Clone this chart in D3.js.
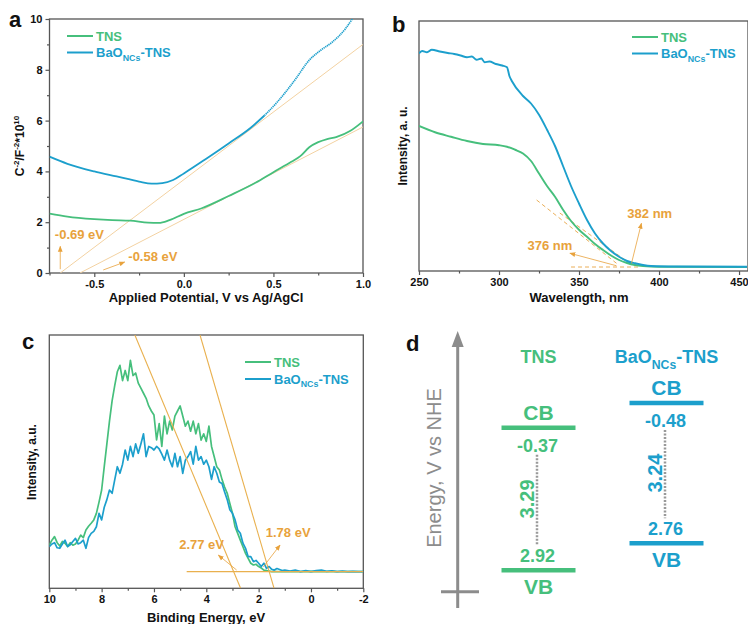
<!DOCTYPE html>
<html>
<head>
<meta charset="utf-8">
<script src="https://cdn.jsdelivr.net/npm/d3@7"></script>
<style>
  body { margin: 0; background: #fff; }
  svg { display: block; font-family: "Liberation Sans", Arial, sans-serif; }
</style>
</head>
<body>
<svg id="fig" width="748" height="624"></svg>
<script>
// ---------- data ----------
// (a) Mott-Schottky
const msPotentialTns = [-0.75, -0.65, -0.5, -0.4, -0.3, -0.2, -0.14, -0.08, 0.0, 0.1, 0.25, 0.4, 0.5, 0.6, 0.65, 0.7, 0.75, 0.8, 0.85, 0.93, 1.0];
const msValueTns     = [2.34, 2.22, 2.12, 2.08, 2.06, 1.98, 1.97, 2.08, 2.33, 2.55, 3.03, 3.55, 3.97, 4.38, 4.6, 4.95, 5.15, 5.27, 5.35, 5.6, 5.97];
const msPotentialBao = [-0.75, -0.65, -0.5, -0.375, -0.25, -0.18, -0.12, -0.06, 0.0, 0.125, 0.25, 0.37, 0.45, 0.53, 0.62, 0.7, 0.76, 0.83, 0.9, 0.94];
const msValueBao     = [4.58, 4.3, 4.0, 3.8, 3.6, 3.52, 3.54, 3.66, 3.92, 4.5, 5.1, 5.7, 6.2, 6.8, 7.6, 8.38, 8.75, 9.1, 9.6, 10.0];
const msTangents = [
  { from: [-0.69, 0], to: [1.0, 9.0] },
  { from: [-0.58, 0], to: [1.0, 5.75] }
];
const msXTicks = [-0.5, 0.0, 0.5, 1.0];
const msXMinor = [-0.75, -0.25, 0.25, 0.75];
const msYTicks = [0, 2, 4, 6, 8, 10];
const msYMinor = [1, 3, 5, 7, 9];

// (b) UV-vis
const uvWaveTns  = [250, 260, 270, 280, 290, 300, 305, 310, 315, 320, 325, 330, 335, 340, 345, 350, 355, 360, 365, 370, 375, 380, 385, 390, 400, 455];
const uvValueTns = [0.58, 0.555, 0.537, 0.52, 0.508, 0.503, 0.497, 0.485, 0.47, 0.44, 0.39, 0.34, 0.297, 0.245, 0.2, 0.165, 0.137, 0.108, 0.084, 0.062, 0.044, 0.032, 0.024, 0.02, 0.017, 0.016];
const uvWaveBao  = [250, 252, 255, 258, 263, 268, 272, 276, 280, 283, 286, 289, 291, 294, 298, 302, 305, 306.5, 308, 315, 320, 325, 330, 335, 340, 345, 350, 355, 360, 365, 370, 375, 380, 385, 390, 395, 410, 455];
const uvValueBao = [0.871, 0.88, 0.875, 0.885, 0.878, 0.872, 0.868, 0.862, 0.855, 0.858, 0.845, 0.85, 0.835, 0.838, 0.828, 0.822, 0.815, 0.78, 0.76, 0.70, 0.67, 0.625, 0.565, 0.50, 0.42, 0.34, 0.27, 0.204, 0.15, 0.11, 0.08, 0.057, 0.04, 0.031, 0.024, 0.02, 0.018, 0.017];
const uvTangents = [
  { from: [323.5, 0.284], to: [373.4, 0.031] },
  { from: [338, 0.232], to: [384, 0.02] },
  { from: [345, 0.016], to: [388, 0.016] }
];
const uvXTicks = [250, 300, 350, 400, 450];
const uvXMinor = [275, 325, 375, 425];

// (c) VB-XPS
const xpsEnergy = [10, 9.9, 9.8, 9.7, 9.6, 9.5, 9.4, 9.3, 9.2, 9.1, 9.0, 8.9, 8.8, 8.7, 8.6, 8.5, 8.4, 8.3, 8.2, 8.1,
  8.0, 7.9, 7.8, 7.7, 7.6, 7.5, 7.4, 7.3, 7.2, 7.1, 7.0, 6.9, 6.8, 6.7, 6.6, 6.5, 6.4, 6.3, 6.2, 6.1,
  6.0, 5.9, 5.8, 5.7, 5.6, 5.5, 5.4, 5.3, 5.2, 5.1, 5.0, 4.9, 4.8, 4.7, 4.6, 4.5, 4.4, 4.3, 4.2, 4.1,
  4.0, 3.9, 3.8, 3.7, 3.6, 3.5, 3.4, 3.3, 3.2, 3.1, 3.0, 2.9, 2.8, 2.7, 2.6, 2.5, 2.4, 2.3, 2.2, 2.1,
  2.0, 1.9, 1.8, 1.7, 1.6, 1.5, 1.4, 1.3, 1.2, 1.1, 1.0, 0.8, 0.6, 0.4, 0.2, 0, -0.2, -0.4, -0.6, -0.8,
  -1.0, -1.2, -1.4, -1.6, -1.8, -2.0];
const xpsTns = [0.171, 0.19, 0.204, 0.18, 0.167, 0.185, 0.178, 0.165, 0.18, 0.17, 0.175, 0.19, 0.21, 0.2, 0.23, 0.245, 0.257, 0.27, 0.296, 0.34,
  0.388, 0.48, 0.57, 0.66, 0.74, 0.80, 0.855, 0.88, 0.82, 0.86, 0.82, 0.90, 0.84, 0.85, 0.81, 0.79, 0.77, 0.75, 0.72, 0.70,
  0.684, 0.586, 0.65, 0.56, 0.68, 0.61, 0.66, 0.625, 0.68, 0.70, 0.72, 0.68, 0.64, 0.66, 0.62, 0.66, 0.61, 0.65, 0.585, 0.61,
  0.58, 0.64, 0.56, 0.52, 0.48, 0.467, 0.43, 0.40, 0.375, 0.335, 0.296, 0.243, 0.217, 0.19, 0.164, 0.138, 0.118, 0.099, 0.092, 0.095,
  0.086, 0.08, 0.072, 0.07, 0.068, 0.066, 0.067, 0.066, 0.066, 0.067, 0.066, 0.066, 0.067, 0.066, 0.066, 0.067, 0.066, 0.066, 0.066, 0.067,
  0.066, 0.066, 0.066, 0.066, 0.066, 0.066];
const xpsBao = [0.164, 0.175, 0.18, 0.16, 0.158, 0.175, 0.19, 0.165, 0.172, 0.185, 0.197, 0.175, 0.18, 0.19, 0.158, 0.2, 0.217, 0.225, 0.243, 0.296,
  0.27, 0.32, 0.35, 0.388, 0.375, 0.428, 0.48, 0.454, 0.49, 0.546, 0.506, 0.56, 0.52, 0.57, 0.533, 0.57, 0.61, 0.52, 0.56, 0.555,
  0.546, 0.56, 0.55, 0.53, 0.506, 0.546, 0.506, 0.48, 0.533, 0.48, 0.52, 0.454, 0.506, 0.52, 0.54, 0.49, 0.56, 0.506, 0.52, 0.49,
  0.506, 0.48, 0.43, 0.48, 0.454, 0.42, 0.414, 0.38, 0.35, 0.31, 0.296, 0.27, 0.23, 0.217, 0.178, 0.158, 0.125, 0.125, 0.105, 0.11,
  0.099, 0.086, 0.099, 0.079, 0.086, 0.075, 0.072, 0.078, 0.074, 0.07, 0.072, 0.068, 0.072, 0.066, 0.07, 0.066, 0.07, 0.072, 0.067, 0.069,
  0.066, 0.068, 0.066, 0.067, 0.066, 0.066];
const xpsTangents = [
  { from: [6.73, 1.0], to: [2.69, 0] },
  { from: [4.24, 1.0], to: [1.41, 0] },
  { from: [4.75, 0.066], to: [-2, 0.066] }
];
const xpsXTicks = [10, 8, 6, 4, 2, 0, -2];
const xpsXMinor = [9, 7, 5, 3, 1, -1];

// (d) band structure
const bandSamples = ["TNS", "BaO"];
const cbValues  = [-0.37, -0.48];
const vbValues  = [2.92, 2.76];
const gapValues = [3.29, 3.24];

// ---------- style ----------
const GREEN = "#46bf7c", BLUE = "#1c9fcc", ORANGE = "#e8a23c", PALE = "#f3d2a2";
const FRAME = "#555";

const svg = d3.select("#fig");
const defs = svg.append("defs");
defs.append("marker").attr("id", "arr").attr("viewBox", "0 0 10 10")
  .attr("refX", 9).attr("refY", 5).attr("markerWidth", 6).attr("markerHeight", 6)
  .attr("markerUnits", "userSpaceOnUse").attr("orient", "auto")
  .append("path").attr("d", "M0,1L10,5L0,9Z").attr("fill", ORANGE);

function baoText(sel, size) {
  sel.append("tspan").text("BaO");
  sel.append("tspan").attr("font-size", size * 0.68).attr("dy", size * 0.3).text("NCs");
  sel.append("tspan").attr("dy", -size * 0.3).text("-TNS");
}

function drawFrame(g, x, y, o, id) {
  const [x0, x1] = x.range(), [y0, y1] = y.range();
  g.append("clipPath").attr("id", id).append("rect")
    .attr("x", x0).attr("y", y1).attr("width", x1 - x0).attr("height", y0 - y1);
  g.append("g").attr("transform", `translate(0,${y0})`)
    .call(d3.axisBottom(x).tickValues(o.xTicks).tickSize(4).tickPadding(3).tickFormat(o.xFmt));
  g.append("g").attr("transform", `translate(0,${y0})`)
    .call(d3.axisBottom(x).tickValues(o.xMinor).tickSize(2.5).tickFormat(""))
    .call(s => s.select(".domain").remove());
  if (o.yTicks) {
    g.append("g").attr("transform", `translate(${x0},0)`)
      .call(d3.axisLeft(y).tickValues(o.yTicks).tickSize(4).tickPadding(3).tickFormat(d3.format("d")));
    g.append("g").attr("transform", `translate(${x0},0)`)
      .call(d3.axisLeft(y).tickValues(o.yMinor).tickSize(2.5).tickFormat(""))
      .call(s => s.select(".domain").remove());
  }
  g.selectAll(".tick line").attr("stroke", FRAME).attr("stroke-width", 1.2);
  g.selectAll(".domain").attr("stroke", "none");
  g.selectAll(".tick text").attr("font-size", 11).attr("font-weight", "bold")
    .attr("fill", "#111").attr("font-family", "Liberation Sans, Arial, sans-serif");
  g.append("rect").attr("x", x0).attr("y", y1).attr("width", x1 - x0).attr("height", y0 - y1)
    .attr("fill", "none").attr("stroke", FRAME).attr("stroke-width", 1.3);
}

function legend(g, x, y, dy) {
  [["TNS", GREEN], ["BaO", BLUE]].forEach(([name, col], i) => {
    g.append("line").attr("x1", x).attr("x2", x + 26).attr("y1", y + i * dy).attr("y2", y + i * dy)
      .attr("stroke", col).attr("stroke-width", 2);
    const t = g.append("text").attr("x", x + 29).attr("y", y + i * dy + 4.5)
      .attr("font-size", 13).attr("font-weight", "bold").attr("fill", col);
    if (name === "TNS") t.text("TNS"); else baoText(t, 13);
  });
}

function panelLabel(x, y, s) {
  svg.append("text").attr("x", x).attr("y", y).attr("font-size", 22).attr("font-weight", "bold")
    .attr("fill", "#111").text(s);
}

function note(g, x, y, p, txt) {
  g.append("line").attr("x1", x(p.from[0])).attr("y1", y(p.from[1]))
    .attr("x2", x(p.to[0])).attr("y2", y(p.to[1]))
    .attr("stroke", ORANGE).attr("stroke-width", 0.8).attr("marker-end", "url(#arr)");
  g.append("text").attr("x", x(p.label[0])).attr("y", y(p.label[1])).attr("dy", "0.35em")
    .attr("text-anchor", p.anchor || "middle").attr("font-size", 13).attr("font-weight", "bold")
    .attr("fill", ORANGE).text(txt);
}

// ---------- (a) ----------
{
  const g = svg.append("g");
  const x = d3.scaleLinear().domain([-0.75, 1.0]).range([49.5, 363]);
  const y = d3.scaleLinear().domain([0, 10]).range([273, 19]);
  drawFrame(g, x, y, { xTicks: msXTicks, xMinor: msXMinor, xFmt: d => d.toFixed(1), yTicks: msYTicks, yMinor: msYMinor }, "clipA");
  const body = g.append("g").attr("clip-path", "url(#clipA)");
  msTangents.forEach(t => body.append("line")
    .attr("x1", x(t.from[0])).attr("y1", y(t.from[1])).attr("x2", x(t.to[0])).attr("y2", y(t.to[1]))
    .attr("stroke", PALE).attr("stroke-width", 1));
  const line = d3.line().x(d => x(d[0])).y(d => y(d[1])).curve(d3.curveMonotoneX);
  body.append("path").datum(d3.zip(msPotentialTns, msValueTns)).attr("d", line)
    .attr("fill", "none").attr("stroke", GREEN).attr("stroke-width", 1.8);
  const bao = d3.zip(msPotentialBao, msValueBao);
  body.append("path").datum(bao.filter(d => d[0] <= 0.45)).attr("d", line)
    .attr("fill", "none").attr("stroke", BLUE).attr("stroke-width", 1.8);
  // the upper part of this curve is drawn as fine dots in the source
  body.append("path").datum(bao.filter(d => d[0] >= 0.45)).attr("d", line)
    .attr("fill", "none").attr("stroke", BLUE).attr("stroke-width", 1.7).attr("stroke-dasharray", "1.3,0.7");
  note(g, x, y, { from: [-0.69, 0.15], to: [-0.69, 1.05], label: [-0.72, 1.5], anchor: "start" }, "-0.69 eV");
  note(g, x, y, { from: [-0.45, 0.12], to: [-0.33, 0.43], label: [-0.31, 0.65], anchor: "start" }, "-0.58 eV");
  legend(g, 67, 36, 16.5);
  const yt = g.append("text").attr("transform", "translate(24,146) rotate(-90)").attr("text-anchor", "middle")
    .attr("font-size", 12).attr("font-weight", "bold").attr("fill", "#111");
  yt.append("tspan").text("C");
  yt.append("tspan").attr("font-size", 8).attr("dy", -5).text("-2");
  yt.append("tspan").attr("dy", 5).text("/F");
  yt.append("tspan").attr("font-size", 8).attr("dy", -5).text("-2");
  yt.append("tspan").attr("dy", 5).text("*10");
  yt.append("tspan").attr("font-size", 8).attr("dy", -5).text("10");
  g.append("text").attr("x", 206).attr("y", 302).attr("text-anchor", "middle")
    .attr("font-size", 13).attr("font-weight", "bold").attr("fill", "#111").text("Applied Potential, V vs Ag/AgCl");
  panelLabel(9, 27, "a");
}

// ---------- (b) ----------
{
  const g = svg.append("g");
  const x = d3.scaleLinear().domain([250, 455.6]).range([419, 748]);
  const y = d3.scaleLinear().domain([0, 1]).range([271, 21]);
  drawFrame(g, x, y, { xTicks: uvXTicks, xMinor: uvXMinor, xFmt: d3.format("d") }, "clipB");
  const body = g.append("g").attr("clip-path", "url(#clipB)");
  uvTangents.forEach(t => body.append("line")
    .attr("x1", x(t.from[0])).attr("y1", y(t.from[1])).attr("x2", x(t.to[0])).attr("y2", y(t.to[1]))
    .attr("stroke", ORANGE).attr("stroke-width", 1).attr("stroke-dasharray", "4,3").attr("opacity", 0.85));
  const line = d3.line().x(d => x(d[0])).y(d => y(d[1])).curve(d3.curveMonotoneX);
  body.append("path").datum(d3.zip(uvWaveTns, uvValueTns)).attr("d", line)
    .attr("fill", "none").attr("stroke", GREEN).attr("stroke-width", 1.9);
  body.append("path").datum(d3.zip(uvWaveBao, uvValueBao)).attr("d", line)
    .attr("fill", "none").attr("stroke", BLUE).attr("stroke-width", 1.9);
  note(g, x, y, { from: [373.4, 0.021], to: [344.3, 0.071], label: [331.8, 0.101] }, "376 nm");
  note(g, x, y, { from: [382.8, 0.031], to: [389, 0.191], label: [394.2, 0.232] }, "382 nm");
  legend(g, 632, 37, 16.5);
  g.append("text").attr("transform", "translate(407,146) rotate(-90)").attr("text-anchor", "middle")
    .attr("font-size", 12).attr("font-weight", "bold").attr("fill", "#111").text("Intensity, a. u.");
  g.append("text").attr("x", 579).attr("y", 302).attr("text-anchor", "middle")
    .attr("font-size", 13).attr("font-weight", "bold").attr("fill", "#111").text("Wavelength, nm");
  panelLabel(392, 32, "b");
}

// ---------- (c) ----------
{
  const g = svg.append("g");
  const x = d3.scaleLinear().domain([10, -2]).range([49.3, 363.3]);
  const y = d3.scaleLinear().domain([0, 1]).range([588.3, 335]);
  drawFrame(g, x, y, { xTicks: xpsXTicks, xMinor: xpsXMinor, xFmt: d => String(d) }, "clipC");
  const body = g.append("g").attr("clip-path", "url(#clipC)");
  const line = d3.line().x(d => x(d[0])).y(d => y(d[1]));
  body.append("path").datum(d3.zip(xpsEnergy, xpsTns)).attr("d", line)
    .attr("fill", "none").attr("stroke", GREEN).attr("stroke-width", 1.7).attr("stroke-linejoin", "round");
  body.append("path").datum(d3.zip(xpsEnergy, xpsBao)).attr("d", line)
    .attr("fill", "none").attr("stroke", BLUE).attr("stroke-width", 1.7).attr("stroke-linejoin", "round");
  xpsTangents.forEach(t => body.append("line")
    .attr("x1", x(t.from[0])).attr("y1", y(t.from[1])).attr("x2", x(t.to[0])).attr("y2", y(t.to[1]))
    .attr("stroke", "#e9b04e").attr("stroke-width", 1.1));
  note(g, x, y, { from: [2.84, 0.072], to: [3.54, 0.131], label: [4.18, 0.175] }, "2.77 eV");
  note(g, x, y, { from: [1.82, 0.085], to: [1.18, 0.171], label: [0.87, 0.221] }, "1.78 eV");
  legend(g, 245, 362, 17);
  g.append("text").attr("transform", "translate(36,462) rotate(-90)").attr("text-anchor", "middle")
    .attr("font-size", 12).attr("font-weight", "bold").attr("fill", "#111").text("Intensity, a.u.");
  g.append("text").attr("x", 206).attr("y", 622).attr("text-anchor", "middle")
    .attr("font-size", 13).attr("font-weight", "bold").attr("fill", "#111").text("Binding Energy, eV");
  panelLabel(22, 349, "c");
}

// ---------- (d) ----------
{
  const g = svg.append("g");
  const AXIS = "#8c8c8c";
  const ax = 457.7;
  g.append("line").attr("x1", ax).attr("x2", ax).attr("y1", 608).attr("y2", 344)
    .attr("stroke", AXIS).attr("stroke-width", 3);
  g.append("path").attr("d", `M${ax},331L${ax - 6},347L${ax + 6},347Z`).attr("fill", AXIS);
  g.append("line").attr("x1", 441).attr("x2", 479).attr("y1", 591.7).attr("y2", 591.7)
    .attr("stroke", AXIS).attr("stroke-width", 3);
  g.append("text").attr("transform", "translate(441,468) rotate(-90)").attr("text-anchor", "middle")
    .attr("font-size", 20).attr("fill", "#8c8c8c").text("Energy, V vs NHE");

  const colX = d3.scalePoint().domain(bandSamples).range([538.5, 666.5]);
  const colShift = [0, -20];
  const e = d3.scaleLinear().domain([0, 1]).range([443.7, 487]);
  const colors = [GREEN, BLUE];
  bandSamples.forEach((s, i) => {
    const cx = colX(s), col = colors[i];
    const yc = e(cbValues[i]) + colShift[i], yv = e(vbValues[i]) + colShift[i];
    const txt = (x, y, size, str) => g.append("text").attr("x", x).attr("y", y).attr("dy", "0.36em")
      .attr("text-anchor", "middle").attr("font-size", size).attr("font-weight", "bold").attr("fill", col).text(str);
    const h = g.append("text").attr("x", cx).attr("y", 357).attr("dy", "0.36em").attr("text-anchor", "middle")
      .attr("font-size", 18).attr("font-weight", "bold").attr("fill", col);
    if (s === "TNS") h.text("TNS"); else baoText(h, 18);
    [yc, yv].forEach(yy => g.append("line").attr("x1", cx - 37).attr("x2", cx + 37).attr("y1", yy).attr("y2", yy)
      .attr("stroke", col).attr("stroke-width", 4.5));
    txt(cx, yc - 15, 21, "CB");
    txt(cx - 1, yc + 17.5, 18, cbValues[i].toFixed(2));
    txt(cx - 1, yv - 14.5, 18, vbValues[i].toFixed(2));
    txt(cx, yv + 16, 21, "VB");
    g.append("line").attr("x1", cx - 1.5).attr("x2", cx - 1.5).attr("y1", yc + 27).attr("y2", yv - 25)
      .attr("stroke", "#999").attr("stroke-width", 2.5).attr("stroke-dasharray", "2,1.5");
    g.append("text").attr("transform", `translate(${cx - 12},${(yc + yv) / 2}) rotate(-90)`).attr("dy", "0.36em")
      .attr("text-anchor", "middle").attr("font-size", 20).attr("font-weight", "bold").attr("fill", col)
      .text(gapValues[i].toFixed(2));
  });
  panelLabel(406, 351, "d");
}
</script>
</body>
</html>
